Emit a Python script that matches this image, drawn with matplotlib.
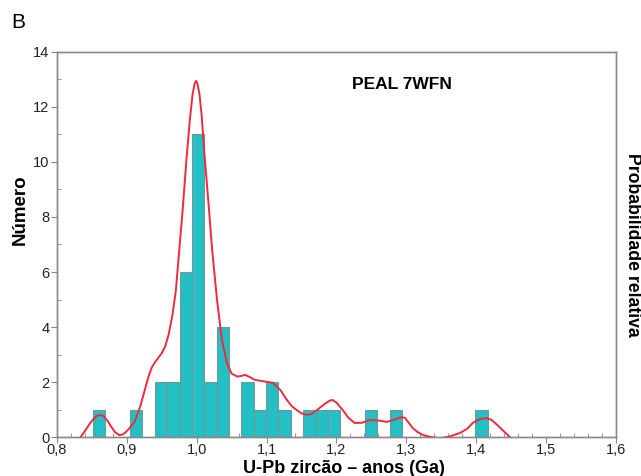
import matplotlib
matplotlib.use("Agg")
import matplotlib.pyplot as plt
from matplotlib.ticker import MultipleLocator, FuncFormatter

plt.rcParams['font.family'] = ['Liberation Sans', 'DejaVu Sans']

# histograma (bordas esquerdas das classes, largura ~0.0177 Ga)
bin_left = [0.8515, 0.9046, 0.9400, 0.9577, 0.9754, 0.9931, 1.0108, 1.0285,
            1.0639, 1.0816, 1.0993, 1.1170, 1.1524, 1.1701, 1.1878,
            1.2409, 1.2763, 1.3988]
counts = [1, 1, 2, 2, 6, 11, 2, 4,
          2, 1, 2, 1, 1, 1, 1,
          1, 1, 1]
bin_width = 0.0177

# curva de probabilidade relativa (em unidades do eixo esquerdo)
curve_x = [0.834, 0.840, 0.846, 0.852, 0.857, 0.862, 0.867, 0.872, 0.877, 0.883,
           0.889, 0.894, 0.899, 0.904, 0.911, 0.919, 0.925, 0.931, 0.936, 0.941,
           0.945, 0.950, 0.955, 0.960, 0.965, 0.970, 0.975, 0.980, 0.985, 0.990,
           0.994, 0.997, 0.999, 1.001, 1.004, 1.007, 1.011, 1.0175, 1.022, 1.029,
           1.036, 1.043, 1.050, 1.058, 1.064, 1.069, 1.076, 1.083, 1.097, 1.109,
           1.120, 1.129, 1.136, 1.143, 1.150, 1.158, 1.165, 1.172, 1.183, 1.190,
           1.194, 1.200, 1.209, 1.217, 1.226, 1.237, 1.248, 1.260, 1.272, 1.285,
           1.292, 1.298, 1.304, 1.309, 1.316, 1.324, 1.335, 1.348, 1.362, 1.377,
           1.387, 1.395, 1.405, 1.415, 1.422, 1.430, 1.439, 1.448]
curve_y = [0.00, 0.22, 0.45, 0.65, 0.77, 0.80, 0.75, 0.60, 0.40, 0.18,
           0.07, 0.09, 0.19, 0.33, 0.55, 1.10, 1.65, 2.20, 2.55, 2.75,
           2.88, 3.05, 3.30, 3.75, 4.40, 5.30, 6.80, 8.30, 10.00, 11.50,
           12.45, 12.85, 12.95, 12.85, 12.45, 11.70, 10.30, 8.28, 6.82, 4.99,
           3.54, 2.70, 2.30, 2.20, 2.22, 2.26, 2.18, 2.08, 2.02, 1.97,
           1.70, 1.35, 1.12, 0.98, 0.86, 0.80, 0.85, 0.98, 1.20, 1.32,
           1.35, 1.25, 0.98, 0.70, 0.51, 0.52, 0.62, 0.60, 0.55, 0.65,
           0.72, 0.70, 0.50, 0.33, 0.18, 0.07, 0.00, -0.05, 0.02, 0.15,
           0.30, 0.51, 0.65, 0.69, 0.62, 0.44, 0.22, 0.00]

x_ticks = [0.8, 0.9, 1.0, 1.1, 1.2, 1.3, 1.4, 1.5, 1.6]

fig = plt.figure(figsize=(6.41, 4.76), dpi=100)
ax = fig.add_axes([0.0889, 0.0819, 0.8721, 0.8089])

ax.bar(bin_left, counts, width=bin_width, align='edge', color='#22bfc4',
       edgecolor='#7a9596', linewidth=0.8, zorder=2)

ax2 = ax.twinx()
ax2.plot(curve_x, curve_y, color='#ee2a3e', linewidth=1.4, zorder=3,
         solid_joinstyle='round')
ax2.set_ylim(0, 14)
ax2.set_yticks([])

ax.set_xlim(0.8, 1.6)
ax.set_ylim(0, 14)
ax.set_xticks(x_ticks)
ax.xaxis.set_major_formatter(FuncFormatter(lambda v, p: ('%.1f' % v).replace('.', ',')))
ax.xaxis.set_minor_locator(MultipleLocator(0.02))
ax.yaxis.set_major_locator(MultipleLocator(2))
ax.yaxis.set_minor_locator(MultipleLocator(1))
ax.tick_params(which='major', direction='out', length=4, width=0.8, color='#888888',
               labelsize=10.5, labelcolor='#222222', pad=1.5)
ax.tick_params(axis='x', which='major', pad=0.5)
ax.tick_params(which='minor', direction='in', length=3, width=0.6, color='#888888')

for a in (ax, ax2):
    for s in a.spines.values():
        s.set_color('#8a8a8a')
        s.set_linewidth(1.0)

ax.text(1.294, 12.8, 'PEAL 7WFN', fontsize=12.5, fontweight='bold', ha='center', va='center')

fig.text(0.537, 0.016, 'U-Pb zircão – anos (Ga)', fontsize=13, fontweight='bold',
         ha='center', va='center')
fig.text(0.031, 0.56, 'Número', fontsize=13.5, fontweight='bold', rotation=90,
         ha='center', va='center')
fig.text(0.986, 0.485, 'Probabilidade relativa', fontsize=12.7, fontweight='bold',
         rotation=-90, ha='center', va='center')
fig.text(0.017, 0.953, 'B', fontsize=15, ha='left', va='center')

fig.savefig('out.png', dpi=100)
